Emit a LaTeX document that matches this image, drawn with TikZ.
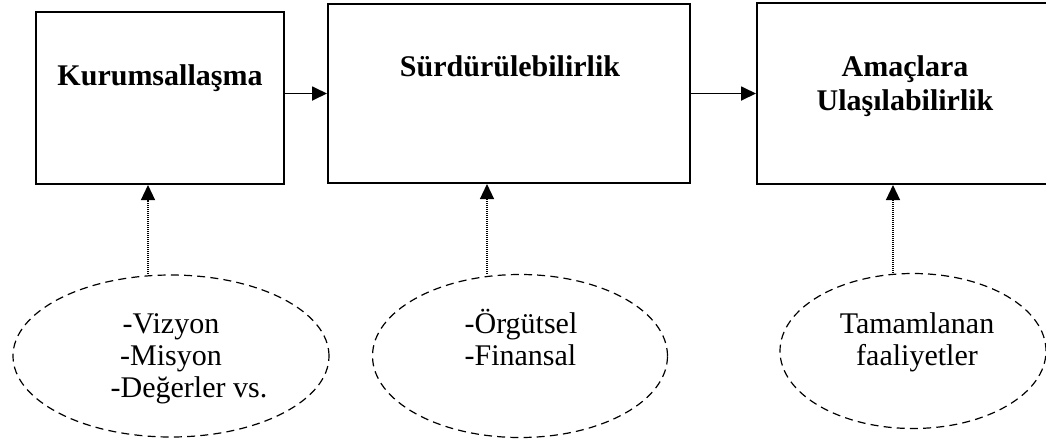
\documentclass[tikz,border=0pt]{standalone}
\usepackage{fontspec}
\setmainfont{Liberation Serif}
\usetikzlibrary{shapes.geometric,arrows.meta}

\tikzset{
  kutu/.style={draw, rectangle, line width=1pt, inner sep=0pt},
  balon/.style={draw, ellipse, dash pattern=on 4pt off 2.6pt, line width=0.6pt, inner sep=0pt},
  baslik/.style={font=\fontsize{15}{17}\selectfont\bfseries, align=center, inner sep=0pt},
  madde/.style={font=\fontsize{15}{16}\selectfont, align=center, inner sep=0pt},
  ok/.style={line width=0.9pt, -{Triangle[length=7.5pt,width=7pt]}},
  noktaok/.style={dash pattern=on 0.5pt off 0.5pt, line width=0.6pt, -{Triangle[length=7.5pt,width=7pt]}}
}

\begin{document}
\begin{tikzpicture}[x=0.5pt, y=-0.5pt]
    \useasboundingbox (0,0) rectangle (1046,446);

    % kutular
    \node[kutu, minimum width=124pt, minimum height=86pt] (k1) at (160,98) {};
    \node[kutu, minimum width=181pt, minimum height=89.5pt] (k2) at (509,93.5) {};
    \node[kutu, minimum width=146.5pt, minimum height=90.5pt] (k3) at (903.5,93.5) {};

    \node[baslik, anchor=base] (t1) at (160,85) {Kurumsallaşma};
    \node[baslik, anchor=base] (t2) at (510,76) {Sürdürülebilirlik};
    \node[baslik, anchor=base] (t3) at (905,110) {Amaçlara\\Ulaşılabilirlik};

    % balonlar
    \node[balon, minimum width=158pt, minimum height=81pt] (b1) at (171,356) {};
    \node[balon, minimum width=147.5pt, minimum height=81.5pt] (b2) at (520,356) {};
    \node[balon, minimum width=133pt, minimum height=77.5pt] (b3) at (913,351) {};

    \node[madde, anchor=base] (m1) at (171,397) {-Vizyon\\-Misyon\\\hspace*{18pt}-Değerler vs.};
    \node[madde, anchor=base, align=left] (m2) at (521,365) {-Örgütsel\\-Finansal};
    \node[madde, anchor=base] (m3) at (917,365) {Tamamlanan\\faaliyetler};

    % oklar
    \draw[ok] (k1.east |- k2.west) -- (k2.west);
    \draw[ok] (k2.east) -- (k3.west);

    \coordinate (c1) at ([xshift=-11.5pt]b1.north);
    \coordinate (c2) at ([xshift=-16.5pt]b2.north);
    \coordinate (c3) at ([xshift=-10pt]b3.north);
    \draw[noktaok] (c1) -- (c1 |- k1.south);
    \draw[noktaok] (c2) -- (c2 |- k2.south);
    \draw[noktaok] (c3) -- (c3 |- k3.south);
\end{tikzpicture}
\end{document}
